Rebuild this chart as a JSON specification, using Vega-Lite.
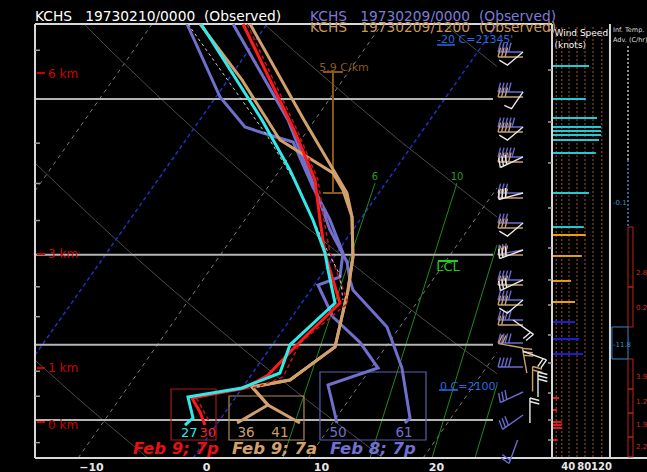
{
  "$schema": "https://vega.github.io/schema/vega-lite/v6.json",
  "width": 612,
  "height": 434,
  "autosize": {"type": "none"},
  "padding": {"left": 35, "top": 24, "right": 0, "bottom": 14},
  "background": "#000000",
  "config": {"view": {"stroke": null}, "text": {"font": "DejaVu Sans"}},
  "datasets": {
    "bg": [
      {"k":"iso","id":"t-30","i":0,"u":-14.87,"p":609.8},{"k":"iso","id":"t-30","i":1,"u":-4.69,"p":425.2},
      {"k":"iso","id":"t-10","i":0,"u":-11.12,"p":1085.5},{"k":"iso","id":"t-10","i":1,"u":15.31,"p":425.2},
      {"k":"iso","id":"t10","i":0,"u":8.88,"p":1085.5},{"k":"iso","id":"t10","i":1,"u":25.3,"p":606},
      {"k":"iso","id":"t20","i":0,"u":18.88,"p":1085.5},{"k":"iso","id":"t20","i":1,"u":25.3,"p":864},
      {"k":"isob","id":"t-20","i":0,"u":-14.87,"p":869.4},{"k":"isob","id":"t-20","i":1,"u":5.31,"p":425.2},
      {"k":"isob","id":"t0","i":0,"u":-1.12,"p":1085.5},{"k":"isob","id":"t0","i":1,"u":25.3,"p":425.5},
      {"k":"dry","id":"d263","i":0,"u":-5.07,"p":1085.5},{"k":"dry","id":"d263","i":1,"u":-6.64,"p":1050},{"k":"dry","id":"d263","i":2,"u":-8.97,"p":1000},{"k":"dry","id":"d263","i":3,"u":-11.36,"p":950},{"k":"dry","id":"d263","i":4,"u":-13.79,"p":900},{"k":"dry","id":"d263","i":5,"u":-14.87,"p":879},
      {"k":"dry","id":"d283","i":0,"u":15.38,"p":1085.5},{"k":"dry","id":"d283","i":1,"u":13.65,"p":1050},{"k":"dry","id":"d283","i":2,"u":11.03,"p":1000},{"k":"dry","id":"d283","i":3,"u":8.35,"p":950},{"k":"dry","id":"d283","i":4,"u":5.61,"p":900},{"k":"dry","id":"d283","i":5,"u":2.76,"p":850},{"k":"dry","id":"d283","i":6,"u":-0.16,"p":800},{"k":"dry","id":"d283","i":7,"u":-3.21,"p":750},{"k":"dry","id":"d283","i":8,"u":-6.36,"p":700},{"k":"dry","id":"d283","i":9,"u":-9.62,"p":650},{"k":"dry","id":"d283","i":10,"u":-13.01,"p":600},{"k":"dry","id":"d283","i":11,"u":-14.87,"p":574},
      {"k":"dry","id":"d303","i":0,"u":25.3,"p":905},{"k":"dry","id":"d303","i":1,"u":21.85,"p":850},{"k":"dry","id":"d303","i":2,"u":18.61,"p":800},{"k":"dry","id":"d303","i":3,"u":15.22,"p":750},{"k":"dry","id":"d303","i":4,"u":11.7,"p":700},{"k":"dry","id":"d303","i":5,"u":8.06,"p":650},{"k":"dry","id":"d303","i":6,"u":4.26,"p":600},{"k":"dry","id":"d303","i":7,"u":0.26,"p":550},{"k":"dry","id":"d303","i":8,"u":-3.9,"p":500},{"k":"dry","id":"d303","i":9,"u":-8.33,"p":450},{"k":"dry","id":"d303","i":10,"u":-10.59,"p":425.2},
      {"k":"dry","id":"d323","i":0,"u":25.3,"p":645},{"k":"dry","id":"d323","i":1,"u":21.55,"p":600},{"k":"dry","id":"d323","i":2,"u":17.11,"p":550},{"k":"dry","id":"d323","i":3,"u":12.51,"p":500},{"k":"dry","id":"d323","i":4,"u":7.6,"p":450},{"k":"dry","id":"d323","i":5,"u":5.06,"p":425.2},
      {"k":"dry","id":"d343","i":0,"u":25.3,"p":466},{"k":"dry","id":"d343","i":1,"u":23.53,"p":450},{"k":"dry","id":"d343","i":2,"u":20.73,"p":425.2},
      {"k":"mix","id":"m6","i":0,"u":14.7,"p":599.4},{"k":"mix","id":"m6","i":1,"u":6.7,"p":1085.5},
      {"k":"mix","id":"m10","i":0,"u":21.83,"p":599.4},{"k":"mix","id":"m10","i":1,"u":14.26,"p":1085.5},
      {"k":"mix","id":"m14","i":0,"u":25.3,"p":685.1},{"k":"mix","id":"m14","i":1,"u":19.65,"p":1085.5},
      {"k":"mix","id":"m18","i":0,"u":25.3,"p":927.2},{"k":"mix","id":"m18","i":1,"u":23.39,"p":1085.5}
    ],
    "snd": [
      {"id":"cy","i":0,"u":-0.43,"p":425.2},{"id":"cy","i":1,"u":4.87,"p":523.1},{"id":"cy","i":2,"u":7.3,"p":582.7},{"id":"cy","i":3,"u":9.3,"p":649.2},{"id":"cy","i":4,"u":10.35,"p":697.2},{"id":"cy","i":5,"u":10.61,"p":723.3},{"id":"cy","i":6,"u":11.22,"p":776.7},{"id":"cy","i":7,"u":7.3,"p":850.4},{"id":"cy","i":8,"u":6.43,"p":903.5},{"id":"cy","i":9,"u":3.13,"p":933.2},{"id":"cy","i":10,"u":-1.57,"p":951.5},{"id":"cy","i":11,"u":-1.13,"p":995.7},{"id":"cy","i":12,"u":-1.83,"p":1010.9},
      {"id":"rd","i":0,"u":3.22,"p":425.2},{"id":"rd","i":1,"u":7.74,"p":536.9},{"id":"rd","i":2,"u":9.48,"p":595.5},{"id":"rd","i":3,"u":9.91,"p":649.2},{"id":"rd","i":4,"u":10.35,"p":697.2},{"id":"rd","i":5,"u":10.78,"p":723.3},{"id":"rd","i":6,"u":11.65,"p":776.7},{"id":"rd","i":7,"u":9.22,"p":823.3},{"id":"rd","i":8,"u":7.48,"p":859.7},{"id":"rd","i":9,"u":5.39,"p":907.4},{"id":"rd","i":10,"u":3.39,"p":933.2},{"id":"rd","i":11,"u":-1.22,"p":953.6},{"id":"rd","i":12,"u":-0.52,"p":982.9},{"id":"rd","i":13,"u":-0.09,"p":1010.9},
      {"id":"rv","i":0,"u":3.57,"p":425.2},{"id":"rv","i":1,"u":8.0,"p":536.9},{"id":"rv","i":2,"u":9.74,"p":595.5},{"id":"rv","i":3,"u":10.26,"p":649.2},{"id":"rv","i":4,"u":10.78,"p":697.2},{"id":"rv","i":5,"u":12.35,"p":776.7},{"id":"rv","i":6,"u":8.17,"p":846.5},{"id":"rv","i":7,"u":6.7,"p":911.3},{"id":"rv","i":8,"u":4.43,"p":931.2},{"id":"rv","i":9,"u":-0.87,"p":951.5},{"id":"rv","i":10,"u":0.35,"p":1006.5},
      {"id":"wd","i":0,"u":-1.57,"p":425.2},{"id":"wd","i":1,"u":5.39,"p":542.7},{"id":"wd","i":2,"u":8.17,"p":608.5},{"id":"wd","i":3,"u":10.52,"p":692.7},{"id":"wd","i":4,"u":11.65,"p":731.1},{"id":"wd","i":5,"u":11.91,"p":771.7},
      {"id":"pd","i":0,"u":-1.65,"p":425.2},{"id":"pd","i":1,"u":1.22,"p":497.8},{"id":"pd","i":2,"u":3.39,"p":531.1},{"id":"pd","i":3,"u":4.96,"p":538.0},{"id":"pd","i":4,"u":7.57,"p":548.6},{"id":"pd","i":5,"u":9.3,"p":604.6},{"id":"pd","i":6,"u":10.78,"p":649.2},{"id":"pd","i":7,"u":11.91,"p":697.2},{"id":"pd","i":8,"u":11.65,"p":734.2},{"id":"pd","i":9,"u":9.74,"p":747.1},{"id":"pd","i":10,"u":11.04,"p":800.5},{"id":"pd","i":11,"u":13.39,"p":845.5},{"id":"pd","i":12,"u":14.96,"p":893.8},{"id":"pd","i":13,"u":10.61,"p":927.2},{"id":"pd","i":14,"u":11.39,"p":1006.5},
      {"id":"pt","i":0,"u":2.35,"p":425.2},{"id":"pt","i":1,"u":7.13,"p":523.1},{"id":"pt","i":2,"u":9.3,"p":599.4},{"id":"pt","i":3,"u":10.78,"p":663.4},{"id":"pt","i":4,"u":12.26,"p":710.9},{"id":"pt","i":5,"u":12.52,"p":739.0},{"id":"pt","i":6,"u":12.78,"p":755.2},{"id":"pt","i":7,"u":15.74,"p":818.0},{"id":"pt","i":8,"u":17.04,"p":893.8},{"id":"pt","i":9,"u":17.74,"p":995.7},{"id":"pt","i":10,"u":17.3,"p":1006.5},
      {"id":"tt","i":0,"u":3.83,"p":425.2},{"id":"tt","i":1,"u":8.52,"p":523.1},{"id":"tt","i":2,"u":12.26,"p":612.5},{"id":"tt","i":3,"u":12.7,"p":645.1},{"id":"tt","i":4,"u":12.78,"p":703.2},{"id":"tt","i":5,"u":12.35,"p":755.2},{"id":"tt","i":6,"u":11.22,"p":854.1},{"id":"tt","i":7,"u":7.3,"p":917.2},{"id":"tt","i":8,"u":4.0,"p":931.2},{"id":"tt","i":9,"u":5.39,"p":968.1},{"id":"tt","i":10,"u":8.17,"p":1006.5},
      {"id":"td","i":0,"u":-0.52,"p":425.2},{"id":"td","i":1,"u":3.13,"p":479.8},{"id":"td","i":2,"u":6.43,"p":546.2},{"id":"td","i":3,"u":11.04,"p":586.5},{"id":"td","i":4,"u":11.91,"p":608.5},{"id":"td","i":5,"u":12.7,"p":645.1},{"id":"td","i":6,"u":12.78,"p":703.2},{"id":"td","i":7,"u":12.35,"p":755.2},{"id":"td","i":8,"u":11.22,"p":854.1},{"id":"td","i":9,"u":7.3,"p":917.2},{"id":"td","i":10,"u":4.0,"p":931.2},{"id":"td","i":11,"u":5.39,"p":968.1},{"id":"td","i":12,"u":2.7,"p":1006.5}
    ],
    "rules": [
      {"k":"isobar","u":-14.87,"u2":24.96,"p":500,"p2":500},{"k":"isobar","u":-14.87,"u2":24.96,"p":700,"p2":700},{"k":"isobar","u":-14.87,"u2":24.96,"p":850,"p2":850},{"k":"isobar","u":-14.87,"u2":24.96,"p":1000,"p2":1000},
      {"k":"frame","u":-14.87,"u2":-14.87,"p":425.2,"p2":1085.5},{"k":"frame","u":-14.87,"u2":30.09,"p":425.2,"p2":425.2},{"k":"frame","u":-14.87,"u2":38.35,"p":1085.5,"p2":1085.5},{"k":"frame","u":30.09,"u2":30.09,"p":425.2,"p2":1085.5},{"k":"frame","u":35.13,"u2":35.13,"p":425.2,"p2":1085.5},
      {"k":"tick","u":-14.87,"u2":-14.44,"p":450,"p2":450},{"k":"tick","u":-14.87,"u2":-14.44,"p":550,"p2":550},{"k":"tick","u":-14.87,"u2":-14.44,"p":600,"p2":600},{"k":"tick","u":-14.87,"u2":-14.44,"p":650,"p2":650},{"k":"tick","u":-14.87,"u2":-14.44,"p":750,"p2":750},{"k":"tick","u":-14.87,"u2":-14.44,"p":800,"p2":800},{"k":"tick","u":-14.87,"u2":-14.44,"p":900,"p2":900},{"k":"tick","u":-14.87,"u2":-14.44,"p":950,"p2":950},{"k":"tick","u":-14.87,"u2":-14.44,"p":1050,"p2":1050},
      {"k":"tick","u":29.74,"u2":30.09,"p":430.7,"p2":430.7},{"k":"tick","u":29.74,"u2":30.09,"p":469.6,"p2":469.6},{"k":"tick","u":29.74,"u2":30.09,"p":525.4,"p2":525.4},{"k":"tick","u":29.74,"u2":30.09,"p":574,"p2":574},{"k":"tick","u":29.74,"u2":30.09,"p":632.6,"p2":632.6},{"k":"tick","u":29.74,"u2":30.09,"p":689.7,"p2":689.7},{"k":"tick","u":29.74,"u2":30.09,"p":739,"p2":739},{"k":"tick","u":29.74,"u2":30.09,"p":780,"p2":780},{"k":"tick","u":29.74,"u2":30.09,"p":832.3,"p2":832.3},{"k":"tick","u":29.74,"u2":30.09,"p":884.2,"p2":884.2},{"k":"tick","u":29.74,"u2":30.09,"p":943.4,"p2":943.4},{"k":"tick","u":29.74,"u2":30.09,"p":1000,"p2":1000},{"k":"tick","u":29.74,"u2":30.09,"p":1044.1,"p2":1044.1},
      {"k":"km","u":-14.7,"u2":-14.0,"p":472.6,"p2":472.6},{"k":"km","u":-14.7,"u2":-14.0,"p":698.7,"p2":698.7},{"k":"km","u":-14.7,"u2":-14.0,"p":893.8,"p2":893.8},{"k":"km","u":-14.7,"u2":-14.0,"p":1004.3,"p2":1004.3},
      {"k":"brown","u":11.04,"u2":11.04,"p":471.6,"p2":612.5},{"k":"brown","u":10.17,"u2":11.91,"p":471.6,"p2":471.6},{"k":"brown","u":10.17,"u2":12.26,"p":612.5,"p2":612.5},
      {"k":"ulblue","u":20.09,"u2":21.65,"p":444.9,"p2":444.9},{"k":"ulblue","u":20.26,"u2":21.91,"p":937.3,"p2":937.3},
      {"k":"olgreen","u":20.17,"u2":21.91,"p":709.4,"p2":709.4},
      {"k":"advw","u":36.7,"u2":36.7,"p":446,"p2":570.3},
      {"k":"advb","u":36.7,"u2":36.7,"p":570.3,"p2":659.2}
    ],
    "rects": [
      {"k":"advr","u":36.7,"u2":37.13,"p":659.2,"p2":750.3},{"k":"advr","u":36.7,"u2":37.13,"p":750.3,"p2":818.0},{"k":"advr","u":36.7,"u2":37.13,"p":876.5,"p2":935.2},{"k":"advr","u":36.7,"u2":37.13,"p":935.2,"p2":985.0},{"k":"advr","u":36.7,"u2":37.13,"p":985.0,"p2":1037.4},{"k":"advr","u":36.7,"u2":37.13,"p":1037.4,"p2":1083},
      {"k":"advbox","u":35.3,"u2":36.7,"p":818.0,"p2":876.5},
      {"k":"boxr","u":-3.04,"u2":0.87,"p":935.2,"p2":1044.1},
      {"k":"boxt","u":2.0,"u2":8.52,"p":949.5,"p2":1044.1},
      {"k":"boxp","u":9.91,"u2":19.13,"p":901.5,"p2":1044.1}
    ],
    "texts": [
      {"k":"tw","u":-14.87,"p":418.8,"t":"KCHS\u00a0\u00a0\u00a019730210/0000\u00a0\u00a0(Observed)"},
      {"k":"tp","u":9.04,"p":418.8,"t":"KCHS\u00a0\u00a0\u00a019730209/0000\u00a0\u00a0(Observed)"},
      {"k":"tt","u":9.04,"p":428.8,"t":"KCHS\u00a0\u00a0\u00a019730209/1200\u00a0\u00a0(Observed)"},
      {"k":"blue","u":20.09,"p":440.1,"t":"-20 C=21345'"},{"k":"blue","u":20.35,"p":930.6,"t":"0 C=2100'"},
      {"k":"brown","u":12.0,"p":467.5,"t":"5.9 C/km"},
      {"k":"grn","u":14.7,"p":591.7,"t":"6"},{"k":"grn","u":21.83,"p":591.7,"t":"10"},
      {"k":"lcl","u":21.04,"p":718.6,"t":"LCL"},
      {"k":"km","u":-13.74,"p":474.0,"t":"6 km"},{"k":"km","u":-13.74,"p":698.7,"t":"3 km"},{"k":"km","u":-13.74,"p":893.8,"t":"1 km"},{"k":"km","u":-13.74,"p":1010.9,"t":"0 km"},
      {"k":"ncy","u":-1.45,"p":1028.5,"t":"27"},
      {"k":"nrd","u":0.15,"p":1028.5,"t":"30"},
      {"k":"ntn","u":3.48,"p":1028.5,"t":"36"},{"k":"ntn","u":6.43,"p":1028.5,"t":"41"},
      {"k":"npu","u":11.48,"p":1028.5,"t":"50"},{"k":"npu","u":17.22,"p":1028.5,"t":"61"},
      {"k":"lgr","u":-6.35,"p":1064.6,"t":"Feb 9; 7p"},
      {"k":"lgt","u":2.26,"p":1064.6,"t":"Feb 9; 7a"},
      {"k":"lgp","u":10.78,"p":1064.6,"t":"Feb 8; 7p"},
      {"k":"ws","u":30.3,"p":433.2,"t":"Wind Speed"},{"k":"ws","u":30.3,"p":444.9,"t":"(knots)"},
      {"k":"advh","u":35.39,"p":430.7,"t":"Inf. Temp."},{"k":"advh","u":35.39,"p":440.1,"t":"Adv. (C/hr)"},
      {"k":"advr","u":37.39,"p":728.0,"t":"2.8"},{"k":"advr","u":37.39,"p":785.1,"t":"0.2"},{"k":"advr","u":37.39,"p":911.3,"t":"3.9"},{"k":"advr","u":37.39,"p":961.9,"t":"1.2"},{"k":"advr","u":37.39,"p":1010.9,"t":"1.9"},{"k":"advr","u":37.39,"p":1060,"t":"2.2"},
      {"k":"advbl","u":35.39,"p":625.8,"t":"-0.1"},{"k":"advbl","u":35.39,"p":850.4,"t":"-11.8"}
    ],
    "barbs": [
      {"c":"pu","u":27.57,"p":451.7,"g":"S4","a":0},{"c":"pu","u":27.57,"p":492.4,"g":"S4","a":0},{"c":"pu","u":27.57,"p":531.1,"g":"S5","a":0},{"c":"pu","u":27.57,"p":566.6,"g":"S5","a":0},{"c":"pu","u":27.57,"p":612.5,"g":"S3","a":0},{"c":"pu","u":27.57,"p":653.5,"g":"S3","a":0},{"c":"pu","u":27.57,"p":692.7,"g":"S3","a":-10},{"c":"pu","u":27.57,"p":739.0,"g":"S4","a":0},{"c":"pu","u":27.57,"p":771.7,"g":"S4","a":0},{"c":"pu","u":27.57,"p":805.7,"g":"S4","a":0},{"c":"pu","u":27.57,"p":846.8,"g":"S4","a":0},{"c":"pu","u":27.57,"p":891.8,"g":"S4","a":0},{"c":"pu","u":27.57,"p":941.3,"g":"S3","a":-25},{"c":"pu","u":27.57,"p":989.3,"g":"S3","a":-35},{"c":"pu","u":27.1,"p":1044.1,"g":"S2","a":-70},
      {"c":"tn","u":27.57,"p":456.6,"g":"S3","a":0},{"c":"tn","u":27.57,"p":497.8,"g":"S3","a":0},{"c":"tn","u":27.57,"p":536.9,"g":"S4","a":0},{"c":"tn","u":27.57,"p":572.8,"g":"S4","a":0},{"c":"tn","u":27.57,"p":619.1,"g":"S3","a":0},{"c":"tn","u":27.57,"p":660.6,"g":"S3","a":0},{"c":"tn","u":27.57,"p":700.2,"g":"S3","a":0},{"c":"tn","u":27.57,"p":747.1,"g":"S3","a":0},{"c":"tn","u":27.57,"p":780.0,"g":"S3","a":0},{"c":"tn","u":27.57,"p":814.5,"g":"S2","a":0},{"c":"tn","u":27.57,"p":855.9,"g":"S2","a":10},{"c":"tn","u":27.9,"p":903.5,"g":"S3","a":80},{"c":"tn","u":28.4,"p":940.3,"g":"S2","a":90},
      {"c":"wh","u":27.57,"p":451.7,"g":"V","a":0},{"c":"wh","u":27.57,"p":492.4,"g":"V2","a":0},{"c":"wh","u":27.57,"p":531.1,"g":"V","a":0},{"c":"wh","u":27.57,"p":566.6,"g":"S3","a":-25},{"c":"wh","u":27.57,"p":612.5,"g":"S3","a":-15},{"c":"wh","u":27.57,"p":653.5,"g":"V","a":0},{"c":"wh","u":27.57,"p":692.7,"g":"S3","a":-20},{"c":"wh","u":27.57,"p":739.0,"g":"S3","a":-25},{"c":"wh","u":27.57,"p":771.7,"g":"V","a":0},{"c":"wh","u":26.7,"p":805.7,"g":"S2","a":215},{"c":"wh","u":27.57,"p":862,"g":"S2","a":200},{"c":"wh","u":28.87,"p":951.5,"g":"S3","a":90},{"c":"wh","u":28.17,"p":1006.5,"g":"S2","a":90}
    ]
  },
  "resolve": {"scale": {"x": "independent"}},
  "layer": [
    {
      "encoding": {
        "x": {"field": "u", "type": "quantitative", "scale": {"domain": [-14.87, 38.35], "nice": false, "zero": false},
              "axis": {"values": [-10, 0, 10, 20], "format": "d", "labelColor": "#e6e6e6", "labelFont": "DejaVu Sans", "labelFontWeight": "bold", "labelFontSize": 11, "ticks": false, "domain": false, "grid": false, "labelPadding": 3, "title": null}},
        "y": {"field": "p", "type": "quantitative", "scale": {"type": "log", "domain": [425.2, 1085.5], "reverse": true, "nice": false},
              "axis": {"values": [500, 700, 850, 1000], "format": "d", "labelColor": "#e6e6e6", "labelFont": "DejaVu Sans", "labelFontWeight": "bold", "labelFontSize": 11, "ticks": false, "domain": false, "grid": false, "labelPadding": 2, "title": null}}
      },
      "layer": [
        {"data": {"name": "bg"}, "transform": [{"filter": "datum.k=='iso'"}], "mark": {"type": "line", "color": "#7a7a7a", "strokeWidth": 1, "strokeDash": [4, 4]}, "encoding": {"detail": {"field": "id"}, "order": {"field": "i"}}},
        {"data": {"name": "bg"}, "transform": [{"filter": "datum.k=='isob'"}], "mark": {"type": "line", "color": "#2030c0", "strokeWidth": 1.5, "strokeDash": [4, 3]}, "encoding": {"detail": {"field": "id"}, "order": {"field": "i"}}},
        {"data": {"name": "bg"}, "transform": [{"filter": "datum.k=='dry'"}], "mark": {"type": "line", "color": "#4a4a4a", "strokeWidth": 1}, "encoding": {"detail": {"field": "id"}, "order": {"field": "i"}}},
        {"data": {"name": "bg"}, "transform": [{"filter": "datum.k=='mix'"}], "mark": {"type": "line", "color": "#1e8a1e", "strokeWidth": 1}, "encoding": {"detail": {"field": "id"}, "order": {"field": "i"}}},
        {"data": {"name": "rules"}, "transform": [{"filter": "datum.k=='isobar'"}], "mark": {"type": "rule", "color": "#b4b4b4", "strokeWidth": 2}, "encoding": {"x2": {"field": "u2"}, "y2": {"field": "p2"}}},
        {"data": {"name": "rules"}, "transform": [{"filter": "datum.k=='frame'"}], "mark": {"type": "rule", "color": "#d8d8d8", "strokeWidth": 2}, "encoding": {"x2": {"field": "u2"}, "y2": {"field": "p2"}}},
        {"data": {"name": "rules"}, "transform": [{"filter": "datum.k=='tick'"}], "mark": {"type": "rule", "color": "#a0a0a0", "strokeWidth": 1.5}, "encoding": {"x2": {"field": "u2"}, "y2": {"field": "p2"}}},
        {"data": {"name": "rules"}, "transform": [{"filter": "datum.k=='km'"}], "mark": {"type": "rule", "color": "#d00000", "strokeWidth": 2}, "encoding": {"x2": {"field": "u2"}, "y2": {"field": "p2"}}},
        {"data": {"name": "rules"}, "transform": [{"filter": "datum.k=='brown'"}], "mark": {"type": "rule", "color": "#8a5a16", "strokeWidth": 2}, "encoding": {"x2": {"field": "u2"}, "y2": {"field": "p2"}}},
        {"data": {"name": "rules"}, "transform": [{"filter": "datum.k=='ulblue'"}], "mark": {"type": "rule", "color": "#2a6ae0", "strokeWidth": 1.5}, "encoding": {"x2": {"field": "u2"}, "y2": {"field": "p2"}}},
        {"data": {"name": "rules"}, "transform": [{"filter": "datum.k=='olgreen'"}], "mark": {"type": "rule", "color": "#22cc22", "strokeWidth": 2}, "encoding": {"x2": {"field": "u2"}, "y2": {"field": "p2"}}},
        {"data": {"name": "rules"}, "transform": [{"filter": "datum.k=='advw'"}], "mark": {"type": "rule", "color": "#bbbbbb", "strokeWidth": 1.5, "strokeDash": [2, 2]}, "encoding": {"x2": {"field": "u2"}, "y2": {"field": "p2"}}},
        {"data": {"name": "rules"}, "transform": [{"filter": "datum.k=='advb'"}], "mark": {"type": "rule", "color": "#3a8ac8", "strokeWidth": 1.5, "strokeDash": [2, 2]}, "encoding": {"x2": {"field": "u2"}, "y2": {"field": "p2"}}},
        {"data": {"name": "rects"}, "transform": [{"filter": "datum.k=='advr'"}], "mark": {"type": "rect", "fillOpacity": 0, "stroke": "#c02020", "strokeWidth": 1}, "encoding": {"x2": {"field": "u2"}, "y2": {"field": "p2"}}},
        {"data": {"name": "rects"}, "transform": [{"filter": "datum.k=='advbox'"}], "mark": {"type": "rect", "fillOpacity": 0, "stroke": "#3a8ac8", "strokeWidth": 1}, "encoding": {"x2": {"field": "u2"}, "y2": {"field": "p2"}}},
        {"data": {"name": "rects"}, "transform": [{"filter": "datum.k=='boxr'"}], "mark": {"type": "rect", "fillOpacity": 0, "stroke": "#a81818", "strokeWidth": 1.2}, "encoding": {"x2": {"field": "u2"}, "y2": {"field": "p2"}}},
        {"data": {"name": "rects"}, "transform": [{"filter": "datum.k=='boxt'"}], "mark": {"type": "rect", "fillOpacity": 0, "stroke": "#b08a5a", "strokeWidth": 1.2}, "encoding": {"x2": {"field": "u2"}, "y2": {"field": "p2"}}},
        {"data": {"name": "rects"}, "transform": [{"filter": "datum.k=='boxp'"}], "mark": {"type": "rect", "fillOpacity": 0, "stroke": "#5c5cb0", "strokeWidth": 1.2}, "encoding": {"x2": {"field": "u2"}, "y2": {"field": "p2"}}},
        {"data": {"name": "snd"}, "transform": [{"filter": "datum.id=='pd' || datum.id=='pt'"}], "mark": {"type": "line", "color": "#7070cc", "strokeWidth": 3}, "encoding": {"detail": {"field": "id"}, "order": {"field": "i"}}},
        {"data": {"name": "snd"}, "transform": [{"filter": "datum.id=='tt' || datum.id=='td'"}], "mark": {"type": "line", "color": "#d2a06c", "strokeWidth": 3}, "encoding": {"detail": {"field": "id"}, "order": {"field": "i"}}},
        {"data": {"name": "snd"}, "transform": [{"filter": "datum.id=='rv'"}], "mark": {"type": "line", "color": "#c41414", "strokeWidth": 1.5, "strokeDash": [4, 3]}, "encoding": {"order": {"field": "i"}}},
        {"data": {"name": "snd"}, "transform": [{"filter": "datum.id=='wd'"}], "mark": {"type": "line", "color": "#cfcfcf", "strokeWidth": 1, "strokeDash": [3, 3]}, "encoding": {"order": {"field": "i"}}},
        {"data": {"name": "snd"}, "transform": [{"filter": "datum.id=='rd'"}], "mark": {"type": "line", "color": "#ff1a1a", "strokeWidth": 3}, "encoding": {"order": {"field": "i"}}},
        {"data": {"name": "snd"}, "transform": [{"filter": "datum.id=='cy'"}], "mark": {"type": "line", "color": "#30eaea", "strokeWidth": 3}, "encoding": {"order": {"field": "i"}}},
        {"data": {"name": "barbs"}, "transform": [{"filter": "datum.c=='pu'"}], "mark": {"type": "point", "filled": false, "color": "#6a6ad0", "strokeWidth": 1.4, "size": 625, "opacity": 1},
         "encoding": {"shape": {"field": "g", "type": "nominal", "legend": null, "scale": {"domain": ["S2", "S3", "S4", "S5", "V", "V2"], "range": ["M0,0L-2,0M-2,0L-1.8,-0.75M-1.72,0L-1.52,-0.75", "M0,0L-2,0M-2,0L-1.8,-0.75M-1.72,0L-1.52,-0.75M-1.44,0L-1.24,-0.75", "M0,0L-2,0M-2,0L-1.8,-0.75M-1.72,0L-1.52,-0.75M-1.44,0L-1.24,-0.75M-1.16,0L-0.96,-0.75", "M0,0L-2,0M-2,0L-1.8,-0.75M-1.72,0L-1.52,-0.75M-1.44,0L-1.24,-0.75M-1.16,0L-0.96,-0.75M-0.88,0L-0.68,-0.75", "M0,0L-1.25,1.05L-1.9,0.65", "M0,0L-0.92,1.33L-1.5,1.08"]}}, "angle": {"field": "a", "type": "quantitative", "scale": null}}},
        {"data": {"name": "barbs"}, "transform": [{"filter": "datum.c=='tn'"}], "mark": {"type": "point", "filled": false, "color": "#c8a070", "strokeWidth": 1.4, "size": 625, "opacity": 1},
         "encoding": {"shape": {"field": "g", "type": "nominal", "legend": null, "scale": {"domain": ["S2", "S3", "S4", "S5", "V", "V2"], "range": ["M0,0L-2,0M-2,0L-1.8,-0.75M-1.72,0L-1.52,-0.75", "M0,0L-2,0M-2,0L-1.8,-0.75M-1.72,0L-1.52,-0.75M-1.44,0L-1.24,-0.75", "M0,0L-2,0M-2,0L-1.8,-0.75M-1.72,0L-1.52,-0.75M-1.44,0L-1.24,-0.75M-1.16,0L-0.96,-0.75", "M0,0L-2,0M-2,0L-1.8,-0.75M-1.72,0L-1.52,-0.75M-1.44,0L-1.24,-0.75M-1.16,0L-0.96,-0.75M-0.88,0L-0.68,-0.75", "M0,0L-1.25,1.05L-1.9,0.65", "M0,0L-0.92,1.33L-1.5,1.08"]}}, "angle": {"field": "a", "type": "quantitative", "scale": null}}},
        {"data": {"name": "barbs"}, "transform": [{"filter": "datum.c=='wh'"}], "mark": {"type": "point", "filled": false, "color": "#e8e8e8", "strokeWidth": 1.4, "size": 625, "opacity": 1},
         "encoding": {"shape": {"field": "g", "type": "nominal", "legend": null, "scale": {"domain": ["S2", "S3", "S4", "S5", "V", "V2"], "range": ["M0,0L-2,0M-2,0L-1.8,-0.75M-1.72,0L-1.52,-0.75", "M0,0L-2,0M-2,0L-1.8,-0.75M-1.72,0L-1.52,-0.75M-1.44,0L-1.24,-0.75", "M0,0L-2,0M-2,0L-1.8,-0.75M-1.72,0L-1.52,-0.75M-1.44,0L-1.24,-0.75M-1.16,0L-0.96,-0.75", "M0,0L-2,0M-2,0L-1.8,-0.75M-1.72,0L-1.52,-0.75M-1.44,0L-1.24,-0.75M-1.16,0L-0.96,-0.75M-0.88,0L-0.68,-0.75", "M0,0L-1.25,1.05L-1.9,0.65", "M0,0L-0.92,1.33L-1.5,1.08"]}}, "angle": {"field": "a", "type": "quantitative", "scale": null}}},
        {"data": {"name": "texts"}, "transform": [{"filter": "datum.k=='tw'"}], "mark": {"type": "text", "align": "left", "baseline": "middle", "fontSize": 13.8, "color": "#ffffff"}, "encoding": {"text": {"field": "t"}}},
        {"data": {"name": "texts"}, "transform": [{"filter": "datum.k=='tt'"}], "mark": {"type": "text", "align": "left", "baseline": "middle", "fontSize": 13.8, "color": "#c8965f"}, "encoding": {"text": {"field": "t"}}},
        {"data": {"name": "texts"}, "transform": [{"filter": "datum.k=='tp'"}], "mark": {"type": "text", "align": "left", "baseline": "middle", "fontSize": 13.8, "color": "#7b7bd8"}, "encoding": {"text": {"field": "t"}}},
        {"data": {"name": "texts"}, "transform": [{"filter": "datum.k=='blue'"}], "mark": {"type": "text", "align": "left", "baseline": "middle", "fontSize": 11, "color": "#2a6ae0"}, "encoding": {"text": {"field": "t"}}},
        {"data": {"name": "texts"}, "transform": [{"filter": "datum.k=='brown'"}], "mark": {"type": "text", "align": "center", "baseline": "middle", "fontSize": 11, "color": "#8a5a16"}, "encoding": {"text": {"field": "t"}}},
        {"data": {"name": "texts"}, "transform": [{"filter": "datum.k=='grn'"}], "mark": {"type": "text", "align": "center", "baseline": "middle", "fontSize": 10, "color": "#2a9a2a"}, "encoding": {"text": {"field": "t"}}},
        {"data": {"name": "texts"}, "transform": [{"filter": "datum.k=='lcl'"}], "mark": {"type": "text", "align": "center", "baseline": "middle", "fontSize": 13, "color": "#22cc22"}, "encoding": {"text": {"field": "t"}}},
        {"data": {"name": "texts"}, "transform": [{"filter": "datum.k=='km'"}], "mark": {"type": "text", "align": "left", "baseline": "middle", "fontSize": 12, "color": "#d00000"}, "encoding": {"text": {"field": "t"}}},
        {"data": {"name": "texts"}, "transform": [{"filter": "datum.k=='ncy'"}], "mark": {"type": "text", "align": "center", "baseline": "middle", "fontSize": 13, "color": "#30eaea"}, "encoding": {"text": {"field": "t"}}},
        {"data": {"name": "texts"}, "transform": [{"filter": "datum.k=='nrd'"}], "mark": {"type": "text", "align": "center", "baseline": "middle", "fontSize": 13, "color": "#ff2020"}, "encoding": {"text": {"field": "t"}}},
        {"data": {"name": "texts"}, "transform": [{"filter": "datum.k=='ntn'"}], "mark": {"type": "text", "align": "center", "baseline": "middle", "fontSize": 13.5, "color": "#c8a070"}, "encoding": {"text": {"field": "t"}}},
        {"data": {"name": "texts"}, "transform": [{"filter": "datum.k=='npu'"}], "mark": {"type": "text", "align": "center", "baseline": "middle", "fontSize": 13.5, "color": "#7070cc"}, "encoding": {"text": {"field": "t"}}},
        {"data": {"name": "texts"}, "transform": [{"filter": "datum.k=='lgr'"}], "mark": {"type": "text", "align": "left", "baseline": "middle", "fontSize": 16.5, "fontWeight": "bold", "fontStyle": "italic", "color": "#e81010"}, "encoding": {"text": {"field": "t"}}},
        {"data": {"name": "texts"}, "transform": [{"filter": "datum.k=='lgt'"}], "mark": {"type": "text", "align": "left", "baseline": "middle", "fontSize": 16.5, "fontWeight": "bold", "fontStyle": "italic", "color": "#d2a06c"}, "encoding": {"text": {"field": "t"}}},
        {"data": {"name": "texts"}, "transform": [{"filter": "datum.k=='lgp'"}], "mark": {"type": "text", "align": "left", "baseline": "middle", "fontSize": 16.5, "fontWeight": "bold", "fontStyle": "italic", "color": "#7070d0"}, "encoding": {"text": {"field": "t"}}},
        {"data": {"name": "texts"}, "transform": [{"filter": "datum.k=='ws'"}], "mark": {"type": "text", "align": "left", "baseline": "middle", "fontSize": 9, "color": "#ffffff"}, "encoding": {"text": {"field": "t"}}},
        {"data": {"name": "texts"}, "transform": [{"filter": "datum.k=='advh'"}], "mark": {"type": "text", "align": "left", "baseline": "middle", "fontSize": 6.5, "color": "#dddddd"}, "encoding": {"text": {"field": "t"}}},
        {"data": {"name": "texts"}, "transform": [{"filter": "datum.k=='advr'"}], "mark": {"type": "text", "align": "left", "baseline": "middle", "fontSize": 7, "color": "#d02828"}, "encoding": {"text": {"field": "t"}}},
        {"data": {"name": "texts"}, "transform": [{"filter": "datum.k=='advbl'"}], "mark": {"type": "text", "align": "left", "baseline": "middle", "fontSize": 7, "color": "#3a8ac8"}, "encoding": {"text": {"field": "t"}}}
      ]
    },
    {
      "encoding": {
        "x": {"field": "kt", "type": "quantitative", "scale": {"domain": [0, 120], "range": [518, 566], "nice": false, "zero": false}, "axis": null},
        "y": {"field": "p", "type": "quantitative", "scale": {"type": "log", "domain": [425.2, 1085.5], "reverse": true, "nice": false}, "axis": null}
      },
      "layer": [
        {"data": {"values": [{"kt":8,"p":428,"p2":1085.5},{"kt":22,"p":428,"p2":1085.5},{"kt":40,"p":428,"p2":1085.5},{"kt":60,"p":428,"p2":1085.5},{"kt":80,"p":428,"p2":1085.5},{"kt":100,"p":428,"p2":1085.5},{"kt":122,"p":428,"p2":1085.5}]},
         "mark": {"type": "rule", "color": "#a0582a", "strokeWidth": 1, "strokeDash": [2, 2]}, "encoding": {"y2": {"field": "p2"}}},
        {"data": {"values": [
          {"g":"c","p":465.5,"kt":90},{"g":"c","p":499.9,"kt":82},{"g":"c","p":520.8,"kt":110},{"g":"c","p":531.1,"kt":120},{"g":"c","p":535.7,"kt":120},{"g":"c","p":540.3,"kt":120},{"g":"c","p":546.2,"kt":115},{"g":"c","p":561.7,"kt":107},{"g":"c","p":612.5,"kt":90},{"g":"c","p":659.2,"kt":77},
          {"g":"o","p":670.6,"kt":82},{"g":"o","p":701.7,"kt":72},{"g":"o","p":740.6,"kt":45},{"g":"o","p":775.0,"kt":55},
          {"g":"b","p":809.2,"kt":55},{"g":"b","p":839.5,"kt":65},{"g":"b","p":867.2,"kt":75},
          {"g":"r","p":953.6,"kt":15},{"g":"r","p":978.6,"kt":10},{"g":"r","p":1004.3,"kt":22},{"g":"r","p":1010.9,"kt":22},{"g":"r","p":1017.4,"kt":22},{"g":"r","p":1044.1,"kt":12}
        ]},
         "mark": {"type": "rule", "strokeWidth": 2},
         "encoding": {"x2": {"datum": 0}, "color": {"field": "g", "type": "nominal", "legend": null, "scale": {"domain": ["c", "o", "b", "r"], "range": ["#22cad8", "#e8a010", "#1a1ad8", "#e01818"]}}}},
        {"data": {"values": [{"kt":38,"p":1106.8,"t":"40"},{"kt":78,"p":1106.8,"t":"80"},{"kt":121,"p":1106.8,"t":"120"}]},
         "mark": {"type": "text", "align": "center", "baseline": "middle", "fontSize": 10, "fontWeight": "bold", "color": "#e6e6e6"}, "encoding": {"text": {"field": "t"}}}
      ]
    }
  ]
}
